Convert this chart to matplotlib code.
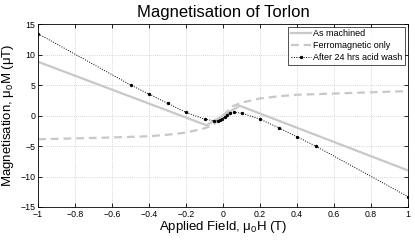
import matplotlib
matplotlib.use('Agg')
import matplotlib.pyplot as plt

# As machined
field_machined = [-1.0, -0.09, 0.0, 0.09, 1.0]
mag_machined = [8.8, -1.6, 0.0, 1.6, -9.0]

# Ferromagnetic only
field_ferro = [-1.0, -0.8, -0.6, -0.4, -0.3, -0.2, -0.1, -0.05, 0.0, 0.05, 0.1, 0.2, 0.3, 0.4, 0.6, 0.8, 1.0]
mag_ferro = [-3.9, -3.75, -3.6, -3.4, -3.15, -2.8, -2.1, -1.5, 0.0, 1.5, 2.1, 2.8, 3.15, 3.4, 3.6, 3.8, 4.0]

# After 24 hrs acid wash
field_acid = [-1.0, -0.5, -0.4, -0.3, -0.2, -0.1, -0.05, -0.03, -0.015, -0.005, 0.01, 0.02, 0.035, 0.06, 0.1, 0.2, 0.3, 0.4, 0.5, 1.0]
mag_acid = [13.4, 5.0, 3.5, 2.0, 0.5, -0.6, -0.85, -0.85, -0.75, -0.5, -0.2, 0.1, 0.45, 0.5, 0.4, -0.6, -2.0, -3.5, -5.0, -13.3]

x_ticks = [-1, -0.8, -0.6, -0.4, -0.2, 0, 0.2, 0.4, 0.6, 0.8, 1]
x_labels = ['\u22121', '\u22120.8', '\u22120.6', '\u22120.4', '\u22120.2', '0', '0.2', '0.4', '0.6', '0.8', '1']
y_ticks = [-15, -10, -5, 0, 5, 10, 15]
y_labels = ['\u221215', '\u221210', '\u22125', '0', '5', '10', '15']

plt.rcParams['font.family'] = ['Liberation Sans', 'DejaVu Sans']
plt.rcParams['mathtext.fontset'] = 'custom'
plt.rcParams['mathtext.rm'] = 'Liberation Sans'
plt.rcParams['mathtext.it'] = 'Liberation Sans'

fig = plt.figure(figsize=(4.15, 2.4), dpi=100)
ax = fig.add_axes([0.092, 0.1375, 0.891, 0.7625])

gray = '#c8c8c8'
ax.plot(field_machined, mag_machined, color=gray, lw=1.6, label='As machined')
ax.plot(field_ferro, mag_ferro, color=gray, lw=1.6, ls=(0, (3.5, 2.2)), label='Ferromagnetic only')
ax.plot(field_acid, mag_acid, color='black', lw=0.7, ls=(0, (1, 1.5)), marker='o', ms=1.4,
        label='After 24 hrs acid wash')

ax.set_xlim(-1, 1)
ax.set_ylim(-15, 15)
ax.set_xticks(x_ticks)
ax.set_xticklabels(x_labels)
ax.set_yticks(y_ticks)
ax.set_yticklabels(y_labels)
ax.tick_params(direction='in', length=3, width=0.6, labelsize=6.3, pad=2, top=True, right=True)
ax.grid(True, color='#b0b0b0', ls=(0, (1, 2)), lw=0.5)
for sp in ax.spines.values():
    sp.set_linewidth(0.6)

ax.set_title('Magnetisation of Torlon', fontsize=12, pad=5)
ax.set_xlabel(r'Applied Field, $\mu_0$H (T)', fontsize=9.5, labelpad=0)
ax.set_ylabel(r'Magnetisation, $\mu_0$M ($\mu$T)', fontsize=9.5, labelpad=3)

leg = ax.legend(loc='upper right', fontsize=6.5, frameon=True, fancybox=False,
                edgecolor='black', borderaxespad=0.3, handlelength=2.2, handletextpad=0.3,
                labelspacing=0.3, borderpad=0.3)
leg.get_frame().set_linewidth(0.6)

fig.savefig('out.png', dpi=100)
